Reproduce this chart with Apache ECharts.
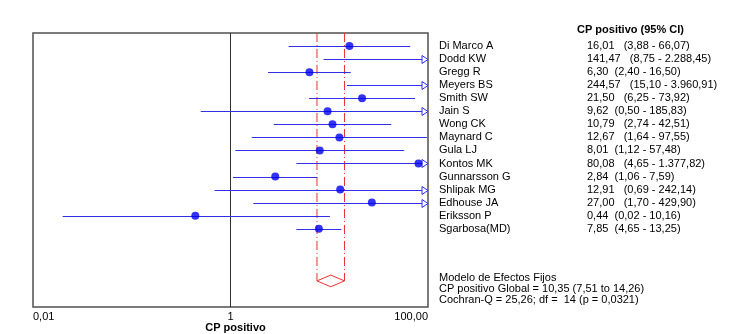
<!DOCTYPE html>
<html><head><meta charset="utf-8">
<script src="https://cdn.jsdelivr.net/npm/echarts@6/dist/echarts.min.js"></script>
<style>html,body{margin:0;padding:0;background:#fff}#c{width:739px;height:334px}</style>
</head><body><div id="c"></div>
<script>
const studies = ["Di Marco A","Dodd KW","Gregg R","Meyers BS","Smith SW","Jain S","Wong CK","Maynard C","Gula LJ","Kontos MK","Gunnarsson G","Shlipak MG","Edhouse JA","Eriksson P","Sgarbosa(MD)"];
const estimate = [16.01,141.47,6.30,244.57,21.50,9.62,10.79,12.67,8.01,80.08,2.84,12.91,27.00,0.44,7.85];
const lower = [3.88,8.75,2.40,15.10,6.25,0.50,2.74,1.64,1.12,4.65,1.06,0.69,1.70,0.02,4.65];
const upper = [66.07,2288.45,16.50,3960.91,73.92,185.83,42.51,97.55,57.48,1377.82,7.59,242.14,429.90,10.16,13.25];
const pooled = [10.35, 7.51, 14.26];
const xTickLabels = {"-2":"0,01","0":"1","2":"100,00"};
const headerText = "CP positivo (95% CI)";
const footerLines = ["Modelo de Efectos Fijos","CP positivo Global = 10,35 (7,51 to 14,26)","Cochran-Q = 25,26; df =  14 (p = 0,0321)"];
const axisName = "CP positivo";

const XMIN = 0.01, XMAX = 100, POOL_ROW = 18;
function fmt(v){
  let s = v.toFixed(2).split('.');
  let ip = s[0].replace(/\B(?=(\d{3})+(?!\d))/g,'.');
  return ip + ',' + s[1];
}
const valueTexts = estimate.map((e,i)=>{
  const a = fmt(e);
  const gap = a.length <= 4 ? '  ' : '   ';
  return a + gap + '(' + fmt(lower[i]) + ' - ' + fmt(upper[i]) + ')';
});
const FONT = '"Liberation Sans", Arial, sans-serif';
const chart = echarts.init(document.getElementById('c'), null, {renderer:'canvas'});
const ciData = studies.map((n,i)=>[lower[i], upper[i], i]);
const ptData = estimate.map((e,i)=>[e,i]).filter(d=>d[0]<=XMAX);

chart.setOption({
  animation:false,
  grid:{left:33, top:33, width:395, height:274, show:true, borderColor:'#505050', borderWidth:1.5, backgroundColor:'#fff', containLabel:false, outerBoundsMode:'none'},
  xAxis:{type:'log', logBase:10, min:XMIN, max:XMAX,
    axisLine:{show:false}, axisTick:{show:false}, splitLine:{show:false},
    axisLabel:{margin:4, color:'#000', fontSize:11, fontFamily:FONT,
      alignMinLabel:'left', alignMaxLabel:'right',
      formatter:v=>{const k=Math.round(Math.log10(v)); return xTickLabels[k]||'';}},
    name:axisName, nameLocation:'middle', nameGap:15, nameMoveOverlap:false,
    nameTextStyle:{fontWeight:'bold', fontSize:11, color:'#000', fontFamily:FONT, padding:[0,0,0,10]}
  },
  yAxis:[
    {type:'value', inverse:true, min:-1, max:20, interval:1, position:'right',
     axisLine:{show:false}, axisTick:{show:false}, splitLine:{show:false},
     axisLabel:{margin:11, color:'#000', fontSize:11, fontFamily:FONT,
       formatter:v=>(v>=0 && v<studies.length)?studies[v]:''}},
    {type:'value', inverse:true, min:-1, max:20, interval:1, position:'right',
     axisLine:{show:false}, axisTick:{show:false}, splitLine:{show:false},
     axisLabel:{margin:159, color:'#000', fontSize:11, fontFamily:FONT,
       formatter:v=>(v>=0 && v<studies.length)?valueTexts[v]:''}}
  ],
  graphic:[
    {type:'text', left:577, top:24.5, style:{text:headerText, font:'bold 11px '+FONT, fill:'#000'}},
    {type:'text', left:439, top:272.5, style:{text:footerLines[0], font:'11px '+FONT, fill:'#000'}},
    {type:'text', left:439, top:283.5, style:{text:footerLines[1], font:'11px '+FONT, fill:'#000'}},
    {type:'text', left:439, top:294.5, style:{text:footerLines[2], font:'11px '+FONT, fill:'#000'}}
  ],
  series:[
    {type:'custom', name:'ref', clip:false, data:[[1]], encode:{x:0},
     renderItem:(p,api)=>{
       const a=api.coord([api.value(0),-1]), b=api.coord([api.value(0),20]);
       return {type:'line', shape:{x1:Math.round(a[0])+0.5,y1:a[1],x2:Math.round(a[0])+0.5,y2:b[1]}, style:{stroke:'#303030', lineWidth:1}};
     }},
    {type:'custom', name:'pooled', clip:false, data:[pooled], encode:{x:[0,1,2]},
     renderItem:(p,api)=>{
       const est=api.value(0), lo=api.value(1), hi=api.value(2);
       const t1=api.coord([lo,-1]), b1=api.coord([lo,POOL_ROW]);
       const t2=api.coord([hi,-1]), b2=api.coord([hi,POOL_ROW]);
       const c=api.coord([est,POOL_ROW]);
       const top=api.coord([est,POOL_ROW-0.45]), bot=api.coord([est,POOL_ROW+0.45]);
       const ls={stroke:'#f03030', lineWidth:1, lineDash:[9,3,1,3]};
       return {type:'group', children:[
         {type:'line', shape:{x1:t1[0],y1:t1[1],x2:b1[0],y2:b1[1]}, style:ls},
         {type:'line', shape:{x1:t2[0],y1:t2[1],x2:b2[0],y2:b2[1]}, style:ls},
         {type:'polygon', shape:{points:[[b1[0],c[1]],[c[0],top[1]],[b2[0],c[1]],[c[0],bot[1]]]},
          style:{fill:'#fff', stroke:'#f03030', lineWidth:1}}
       ]};
     }},
    {type:'custom', name:'ci', clip:false, data:ciData, encode:{x:[0,1], y:2},
     renderItem:(p,api)=>{
       const lo=api.value(0), hi=api.value(1), y=api.value(2);
       const a=api.coord([Math.max(lo,XMIN),y]), b=api.coord([Math.min(hi,XMAX),y]);
       const yy=Math.round(a[1])+0.5;
       const ch=[{type:'line', shape:{x1:a[0],y1:yy,x2:b[0],y2:yy}, style:{stroke:'#3030e6', lineWidth:1}}];
       if(hi>XMAX){
         ch.push({type:'polygon', shape:{points:[[b[0]-6,yy-4],[b[0],yy],[b[0]-6,yy+4]]},
           style:{fill:'#fff', stroke:'#3030f0', lineWidth:1}});
       }
       return {type:'group', children:ch};
     }},
    {type:'scatter', name:'est', data:ptData, symbol:'circle', symbolSize:8,
     itemStyle:{color:'#0000f0'}, z:5}
  ]
});
</script></body></html>
